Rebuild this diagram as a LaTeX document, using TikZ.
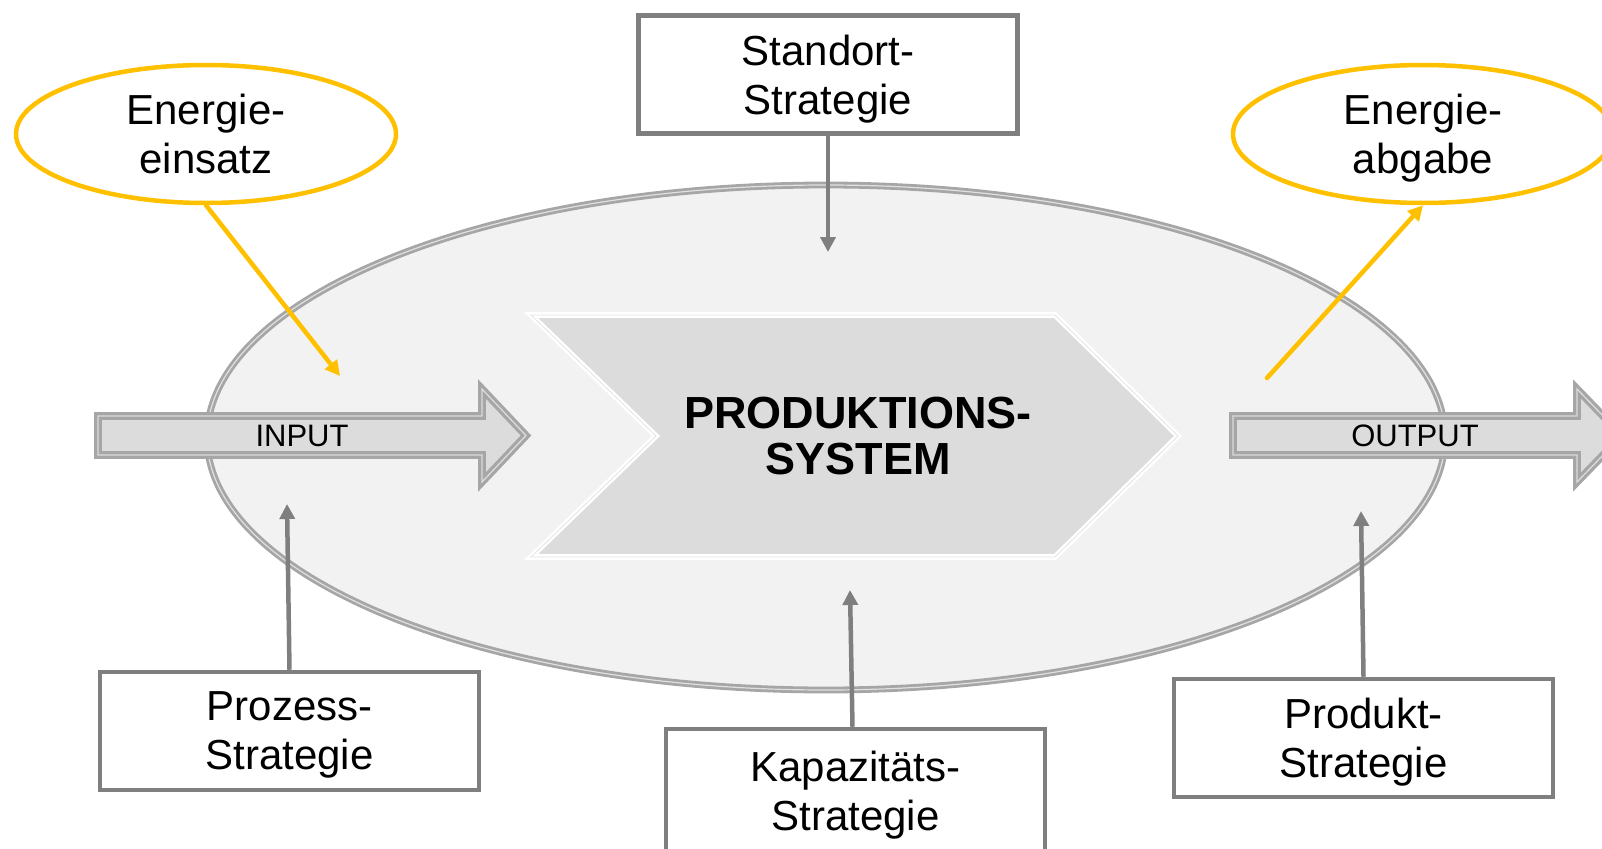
\documentclass[tikz,border=0pt]{standalone}
\usepackage{fontspec}
\setmainfont{Liberation Sans}
\usepackage{xcolor}
\usepackage{tikz}
\usetikzlibrary{shapes.geometric,arrows.meta}

\definecolor{boxgray}{HTML}{7F7F7F}
\definecolor{rimgray}{HTML}{A6A6A6}
\definecolor{flowfill}{HTML}{DCDCDC}
\definecolor{plantfill}{HTML}{F2F2F2}
\definecolor{energy}{HTML}{FFC000}

\begin{document}
\begin{tikzpicture}[x=1pt, y=-1pt,
    strategy/.style={rectangle, draw=boxgray, line width=4.5pt, fill=white, minimum width=379pt, minimum height=118pt, align=center, text depth=0pt, font=\fontsize{42}{49}\selectfont},
    energybox/.style={ellipse, draw=energy, line width=4.5pt, fill=white, minimum width=380pt, minimum height=138pt, inner sep=0pt, align=center, text depth=0pt, font=\fontsize{42}{49}\selectfont},
    plant/.style={ellipse, draw=rimgray, line width=2.8pt, double=rimgray!35!white, double distance=1.2pt, fill=plantfill, minimum width=1238pt, minimum height=505pt, inner sep=0pt},
    flow/.style={draw=rimgray, line width=3.2pt, double=rimgray!40!white, double distance=1.3pt, fill=flowfill, line join=miter},
    chevron/.style={draw=white, line width=2.4pt, double=rimgray!30!white, double distance=0.8pt, fill=flowfill, line join=miter},
    flowtext/.style={font=\fontsize{31}{31}\selectfont},
    garrow/.style={-{Triangle[length=15pt,width=15pt]}, draw=boxgray, line width=4.5pt},
    yarrow/.style={-{Triangle[length=15pt,width=15pt]}, draw=energy, line width=4.5pt, line cap=round}
]
\clip (0,0) rectangle (1602,848);

% production system
\node[plant] (plant) at (826,437.5) {};
\draw[chevron] (531,315) -- (1055,315) -- (1178,436) -- (1055,557) -- (531,557) -- (656,436) -- cycle;
\node[align=center, font=\bfseries\fontsize{45}{46}\selectfont] (system) at (858,436) {PRODUKTIONS-\\SYSTEM};

% input / output
\draw[flow] (98,416) -- (482,416) -- (482,389) -- (526,435.5) -- (482,482) -- (482,455) -- (98,455) -- cycle;
\node[flowtext] (input) at (302,435.5) {INPUT};
\draw[flow] (1233,416) -- (1577,416) -- (1577,389) -- (1622,435.5) -- (1577,482) -- (1577,455) -- (1233,455) -- cycle;
\node[flowtext] (output) at (1415,435.5) {OUTPUT};

% strategies
\node[strategy] (standort) at (828,74.5) {Standort-\\Strategie};
\node[strategy] (prozess) at (289.5,731) {Prozess-\\Strategie};
\node[strategy, minimum height=124pt] (kapazitaet) at (855.5,791) {Kapazitäts-\\Strategie};
\node[strategy] (produkt) at (1363.5,738) {Produkt-\\Strategie};

% energy
\node[energybox] (einsatz) at (206,134) {Energie-\\einsatz};
\node[energybox] (abgabe) at (1423,134) {Energie-\\abgabe};

\coordinate (standortTip) at (827,252);
\coordinate (prozessTip) at (287,504);
\coordinate (kapazitaetTip) at (850,590);
\coordinate (produktTip) at (1361,511);
\coordinate (einsatzTip) at (340,376);
\coordinate (abgabeStart) at (1267,378);

\draw[garrow] (standort.south) -- (standort.south |- standortTip);
\draw[garrow] (prozess.north) -- (prozessTip);
\draw[garrow] ([xshift=-3pt]kapazitaet.north) -- (kapazitaetTip);
\draw[garrow] (produkt.north) -- (produktTip);

\draw[yarrow] (einsatz.south) -- (einsatzTip);
\draw[yarrow] (abgabeStart) -- (abgabe.south);

\end{tikzpicture}
\end{document}
